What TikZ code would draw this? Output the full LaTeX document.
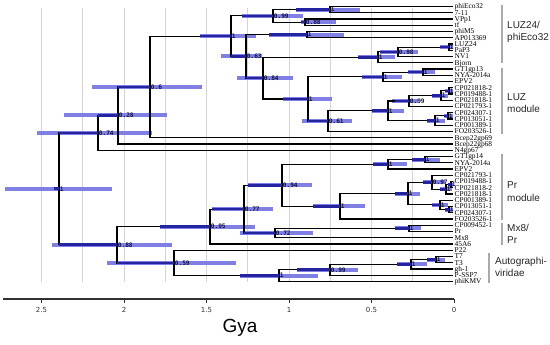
\documentclass[tikz,border=0pt]{standalone}
\usepackage{fontspec}
\setmainfont{Liberation Serif}
\newfontfamily\sansf{Liberation Sans}
\newfontfamily\dejav{DejaVu Sans}
\newfontfamily\monof{DejaVu Sans Mono}
\definecolor{barlight}{RGB}{128,128,228}
\definecolor{bardark}{RGB}{36,36,160}
\definecolor{gridc}{RGB}{212,212,212}
\definecolor{grpc}{RGB}{170,170,170}
\definecolor{lblc}{RGB}{20,20,70}
\definecolor{axc}{RGB}{50,50,50}
\pgfdeclarelayer{gridl}\pgfdeclarelayer{barl}\pgfdeclarelayer{darkl}\pgfdeclarelayer{lbll}
\pgfsetlayers{gridl,barl,main,darkl,lbll}
\tikzset{
 branch/.style={line width=1.1pt, black},
 darkseg/.style={line width=2.6pt, bardark},
 hpdbar/.style={fill=barlight},
 gridline/.style={line width=0.8pt, gridc},
 grpline/.style={line width=1.3pt, grpc},
 grptext/.style={anchor=west, inner sep=0pt, align=left, font=\sansf\fontsize{10}{12.5}\selectfont, text=black!85},
 nlabel/.style={anchor=west, inner sep=0pt, xshift=0.6pt, font=\monof\bfseries\fontsize{6.2}{6.4}\selectfont, text=lblc},
 leaflbl/.style={anchor=mid west, inner sep=0pt, xshift=1.5pt, font=\fontsize{7.4}{7.6}\selectfont},
 ticklbl/.style={inner sep=0pt, font=\dejav\fontsize{7}{8}\selectfont, text=axc},
 axisline/.style={line width=1.2pt, axc},
}
\newcommand\tn[7]{%
  \coordinate (#1) at (#2,#3);
  \begin{pgfonlayer}{barl}\fill[hpdbar] ({#5},{#3-2}) rectangle ({#6},{#3+2});\end{pgfonlayer}
  \begin{pgfonlayer}{darkl}\draw[darkseg] ({#4},{#3}) -- (#1);\end{pgfonlayer}
  \begin{pgfonlayer}{lbll}\node[nlabel] (#1t) at (#1) {#7};\end{pgfonlayer}
}
\newcommand\lf[2]{\coordinate (L#1) at (453,{6.5+(#1-1)*6.25});
  \node[leaflbl] (L#1t) at (L#1) {#2};}
\begin{document}
\begin{tikzpicture}[x=1pt,y=-1pt]
\useasboundingbox (0,0) rectangle (550,345);
% grid
\begin{pgfonlayer}{gridl}
\foreach \k in {1,...,10} {\draw[gridline] ({454-41.25*\k},8) -- ({454-41.25*\k},282);}
\end{pgfonlayer}
% leaves
\lf{1}{phiEco32}\lf{2}{7-11}\lf{3}{VPp1}\lf{4}{tf}\lf{5}{phiM5}
\lf{6}{AP013369}\lf{7}{LUZ24}\lf{8}{PaP3}\lf{9}{NV1}\lf{10}{Bjorn}
\lf{11}{GT1gp13}\lf{12}{NYA-2014a}\lf{13}{EPV2}\lf{14}{CP021818-2}\lf{15}{CP019488-1}
\lf{16}{CP021818-1}\lf{17}{CP021793-1}\lf{18}{CP024307-1}\lf{19}{CP013051-1}\lf{20}{CP001389-1}
\lf{21}{FO203526-1}\lf{22}{Bcep22gp69}\lf{23}{Bcep22gp68}\lf{24}{N4gp67}\lf{25}{GT1gp14}
\lf{26}{NYA-2014a}\lf{27}{EPV2}\lf{28}{CP021793-1}\lf{29}{CP019488-1}\lf{30}{CP021818-2}
\lf{31}{CP021818-1}\lf{32}{CP001389-1}\lf{33}{CP013051-1}\lf{34}{CP024307-1}\lf{35}{FO203526-1}
\lf{36}{CP009452-1}\lf{37}{Pr}\lf{38}{Mx8}\lf{39}{45A6}\lf{40}{P22}
\lf{41}{T7}\lf{42}{T3}\lf{43}{gh-1}\lf{44}{P-SSP7}\lf{45}{phiKMV}
% internal nodes: name, x, y, dark-from, lo, hi, label
\tn{R}{59}{188.8}{54}{5}{112}{1}
\tn{N074}{98}{132.86}{59}{37}{152}{0.74}
\tn{N028}{118}{115.47}{98}{64}{167}{0.28}
\tn{N06}{150}{86.94}{118}{92}{202}{0.6}
\tn{N1A}{231}{36.13}{200}{200}{256}{1}
\tn{N099A}{273}{15.875}{242}{242}{303}{0.99}
\tn{N1B}{330}{9.625}{296}{296}{360}{1}
\tn{N088A}{305}{22.125}{301}{301}{336}{0.88}
\tn{N063}{246}{56.38}{231}{221}{262}{0.63}
\tn{N1C}{307}{34.625}{269}{269}{344}{1}
\tn{N084}{263}{78.13}{246}{237}{293}{0.84}
\tn{N1D}{378}{57.28}{358}{358}{395}{1}
\tn{N098}{398}{51.81}{380}{380}{418}{0.98}
\tn{N1E}{449}{47.125}{440}{440}{453}{1}
\tn{N1F}{308}{98.98}{283}{283}{332}{1}
\tn{N1G}{383}{76.81}{362}{362}{402}{1}
\tn{N1H}{423}{72.125}{408}{408}{435}{1}
\tn{N061}{328}{121.15}{308}{302}{352}{0.61}
\tn{N1I}{388}{110.8}{372}{372}{404}{1}
\tn{N099B}{409}{101.03}{395}{392}{418}{0.99}
\tn{N1K}{441}{95.56}{432}{432}{448}{1}
\tn{N1L}{449}{90.875}{445}{445}{453}{1}
\tn{N1J}{435}{120.56}{427}{427}{445}{1}
\tn{N1M}{448}{115.875}{444}{444}{453}{1}
\tn{N088B}{117}{244.77}{59}{52}{172}{0.88}
\tn{N095}{210}{226.59}{160}{160}{255}{0.95}
\tn{N077}{244}{209.18}{212}{212}{273}{0.77}
\tn{N094}{282}{185.3}{248}{248}{312}{0.94}
\tn{N1Q}{388}{164.31}{373}{373}{407}{1}
\tn{N1R}{425}{159.625}{412}{412}{440}{1}
\tn{N1S}{340}{206.3}{313}{313}{365}{1}
\tn{N1T}{408}{193.61}{395}{395}{420}{1}
\tn{N09x}{432}{182.28}{423}{423}{445}{0.97}
\tn{NX}{446}{189.31}{440}{440}{452}{1}
\tn{NW}{451}{184.625}{448}{448}{453}{1}
\tn{N1V}{440}{204.94}{432}{432}{448}{1}
\tn{NCM}{449}{209.625}{445}{445}{453}{1}
\tn{N072}{275}{233.06}{244}{240}{313}{0.72}
\tn{N1P}{409}{228.375}{395}{395}{421}{1}
\tn{N059}{174}{262.95}{117}{107}{236}{0.59}
\tn{N1X}{279}{275.64}{240}{240}{318}{1}
\tn{N099C}{330}{269.78}{297}{297}{358}{0.99}
\tn{N1Y}{411}{264.31}{397}{397}{427}{1}
\tn{N1Z}{436}{259.625}{427}{427}{445}{1}
% branches
\foreach \p/\c in {R/N074,R/N088B,N074/N028,N074/L24,N028/N06,N028/L23,N06/N1A,N06/L22,
  N1A/N099A,N1A/N063,N099A/N1B,N099A/N088A,N1B/L1,N1B/L2,N088A/L3,N088A/L4,
  N063/N1C,N063/N084,N1C/L5,N1C/L6,N084/N1D,N084/N1F,N1D/N098,N1D/L10,N098/N1E,N098/L9,
  N1E/L7,N1E/L8,N1F/N1G,N1F/N061,N1G/N1H,N1G/L13,N1H/L11,N1H/L12,N061/N1I,N061/L21,
  N1I/N099B,N1I/N1J,N099B/N1K,N099B/L17,N1K/N1L,N1K/L16,N1L/L14,N1L/L15,
  N1J/N1M,N1J/L20,N1M/L18,N1M/L19,
  N088B/N095,N088B/N059,N095/N077,N095/L39,N077/N094,N077/N072,N094/N1Q,N094/N1S,
  N1Q/N1R,N1Q/L27,N1R/L25,N1R/L26,N1S/N1T,N1S/L35,N1T/N09x,N1T/N1V,N09x/L28,N09x/NX,
  NX/NW,NX/L31,NW/L29,NW/L30,N1V/L32,N1V/NCM,NCM/L33,NCM/L34,
  N072/N1P,N072/L38,N1P/L36,N1P/L37,N059/L40,N059/N1X,N1X/N099C,N1X/L45,
  N099C/N1Y,N099C/L44,N1Y/N1Z,N1Y/L43,N1Z/L41,N1Z/L42}
  {\draw[branch] (\p) |- (\c);}
% group brackets
\coordinate (g1a) at (502,5); \coordinate (g1b) at (502,63);
\coordinate (g2a) at (502,68); \coordinate (g2b) at (502,134);
\coordinate (g3a) at (502,154); \coordinate (g3b) at (502,220);
\coordinate (g4a) at (502,223); \coordinate (g4b) at (502,245);
\coordinate (g5a) at (489,253); \coordinate (g5b) at (489,283);
\draw[grpline] (g1a) -- (g1b);
\draw[grpline] (g2a) -- (g2b);
\draw[grpline] (g3a) -- (g3b);
\draw[grpline] (g4a) -- (g4b);
\draw[grpline] (g5a) -- (g5b);
\node[grptext] (t1) at (507,32) {LUZ24/\\phiEco32};
\node[grptext] (t2) at (507,103) {LUZ\\module};
\node[grptext] (t3) at (507,191.5) {Pr\\module};
\node[grptext] (t4) at (507,234) {Mx8/\\Pr};
\node[grptext] (t5) at (495,267) {Autographi-\\viridae};
% axis
\coordinate (ax0) at (3,299); \coordinate (ax1) at (454,299);
\draw[axisline] (ax0) -- (ax1);
\foreach \v/\t in {0/0,1/0.5,2/1,3/1.5,4/2,5/2.5} {
  \draw[axc, line width=0.8pt] ({454-82.5*\v},299) -- ({454-82.5*\v},302.5);
  \node[ticklbl] at ({454-82.5*\v},309.5) {\t};
}
\node[inner sep=0pt, font=\sansf\fontsize{19}{19}\selectfont] (gya) at (240,328) {Gya};
\end{tikzpicture}
\end{document}
